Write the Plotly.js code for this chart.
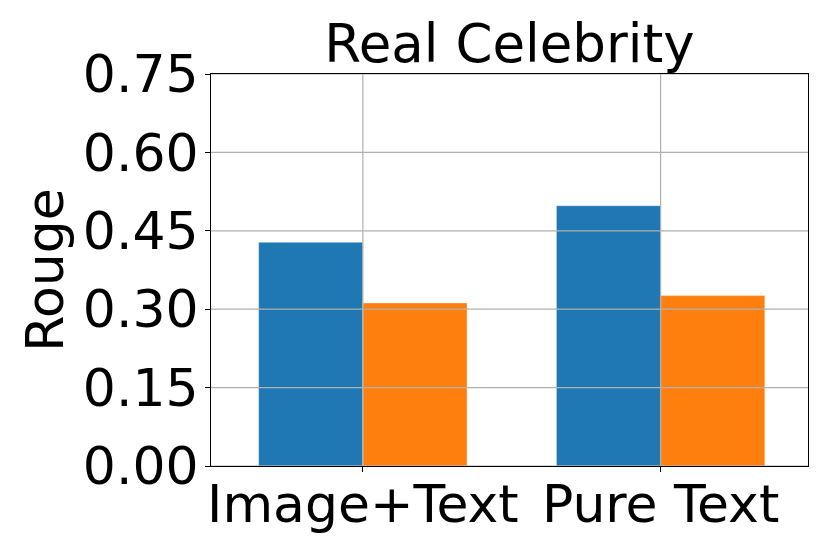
<!DOCTYPE html>
<html>
<head>
<meta charset="utf-8">
<script src="https://cdn.plot.ly/plotly-3.0.1.min.js"></script>
<style>
  body { margin: 0; padding: 0; background: white; }
  #chart { width: 830px; height: 554px; }
</style>
</head>
<body>
<div id="chart"></div>
<script>
// values
var categories = ['Image+Text', 'Pure Text'];
var seriesA = [0.428, 0.498];   // blue bars
var seriesB = [0.312, 0.326];   // orange bars
var yTicks = [0, 0.15, 0.30, 0.45, 0.60, 0.75];

var colours = {
    a: '#1f77b4',
    b: '#ff7f0e'
};

var gridColour = '#b0b0b0';

var traceA = {
    x: categories,
    y: seriesA,
    type: 'bar',
    name: 'A',
    marker: {color: colours.a, line: {color: 'rgba(255,255,255,0.4)', width: 1}}
};

var traceB = {
    x: categories,
    y: seriesB,
    type: 'bar',
    name: 'B',
    marker: {color: colours.b, line: {color: 'rgba(255,255,255,0.4)', width: 1}}
};

// matplotlib draws the grid over the bars, so redraw it as shapes above the traces
var gridShapes = [];
yTicks.forEach(function (v) {
    gridShapes.push({
        type: 'line', layer: 'above', xref: 'paper', yref: 'y',
        x0: 0, x1: 1, y0: v, y1: v,
        line: {color: gridColour, width: 1.2}
    });
});
categories.forEach(function (c) {
    gridShapes.push({
        type: 'line', layer: 'above', xref: 'x', yref: 'paper',
        x0: c, x1: c, y0: 0, y1: 1,
        line: {color: gridColour, width: 1.2}
    });
});

var layout = {
    width: 830,
    height: 554,
    margin: {l: 211, r: 22, t: 74, b: 88},
    paper_bgcolor: 'white',
    plot_bgcolor: 'white',
    showlegend: false,
    barmode: 'group',
    bargap: 0.3,
    bargroupgap: 0,
    font: {family: 'DejaVu Sans', size: 52, color: 'black'},
    title: {
        text: 'Real Celebrity',
        font: {family: 'DejaVu Sans', size: 53, color: 'black'},
        x: 0.5,
        xref: 'paper',
        xanchor: 'center',
        y: 1,
        yref: 'paper',
        yanchor: 'bottom',
        pad: {b: 12}
    },
    xaxis: {
        type: 'category',
        range: [-0.51, 1.495],
        showgrid: false,
        ticks: 'outside',
        ticklen: 5,
        tickwidth: 1,
        tickcolor: 'black',
        ticklabelstandoff: -12,
        showline: true,
        mirror: true,
        linecolor: 'black',
        linewidth: 1,
        zeroline: false,
        tickfont: {size: 52}
    },
    yaxis: {
        range: [0, 0.75],
        tickvals: yTicks,
        tickformat: '.2f',
        showgrid: false,
        ticks: 'outside',
        ticklen: 5,
        tickwidth: 1,
        tickcolor: 'black',
        ticklabelstandoff: -4,
        showline: true,
        mirror: true,
        linecolor: 'black',
        linewidth: 1,
        zeroline: false,
        tickfont: {size: 52},
        title: {text: 'Rouge', font: {size: 52}, standoff: 2}
    },
    shapes: gridShapes
};

Plotly.newPlot('chart', [traceA, traceB], layout, {staticPlot: true});
</script>
</body>
</html>
